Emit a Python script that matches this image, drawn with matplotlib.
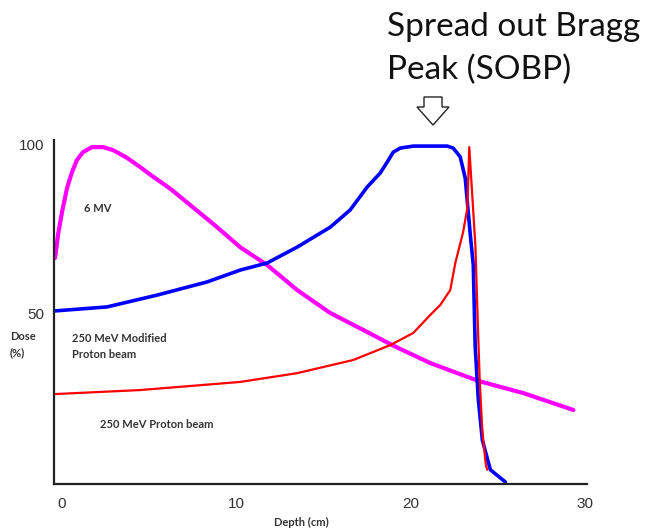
import matplotlib
matplotlib.use("Agg")
import matplotlib.pyplot as plt
from matplotlib.patches import Polygon

# depth (cm) / dose (%)
depth_6mv = [-0.40, -0.23, 0.00, 0.29, 0.57, 0.86, 1.20, 1.72, 2.35, 2.93, 3.73,
             4.48, 5.10, 6.20, 7.34, 8.89, 10.21, 11.76, 13.48, 15.38, 17.27,
             18.93, 21.11, 23.87, 26.45, 29.32]
dose_6mv = [66.3, 73.1, 79.9, 87.0, 91.7, 95.3, 97.6, 99.1, 99.1, 98.2, 95.9,
            93.2, 90.8, 86.8, 82.0, 75.4, 69.5, 64.2, 56.8, 50.0, 45.0,
            40.5, 35.2, 29.9, 26.3, 21.3]

depth_sobp = [-0.46, 2.58, 5.45, 8.32, 10.21, 11.76, 13.48, 15.38, 16.52, 17.50,
              18.24, 18.65, 18.99, 19.39, 20.14, 22.09, 22.43, 22.83, 23.12,
              23.24, 23.41, 23.58, 23.69, 23.87, 24.10, 24.56, 25.42]
dose_sobp = [50.6, 51.8, 55.3, 59.2, 62.7, 64.8, 69.5, 75.4, 80.5, 87.3,
             91.4, 94.7, 97.6, 98.8, 99.4, 99.4, 98.8, 96.2, 89.9,
             82.8, 73.1, 64.2, 40.0, 24.3, 12.4, 3.6, 0.0]

depth_proton = [-0.46, 4.48, 10.21, 13.48, 16.70, 18.82, 20.14, 21.11, 21.69,
                22.26, 22.55, 23.00, 23.24, 23.35, 23.70, 23.85, 23.95, 24.10,
                24.30, 24.38]
dose_proton = [26.0, 27.2, 29.6, 32.2, 36.1, 40.5, 44.1, 49.4, 52.4,
               56.8, 64.8, 74.0, 81.1, 99.1, 70.0, 45.0, 30.0, 15.0,
               5.0, 3.6]

xticks = [0, 10, 20, 30]
yticks = [50, 100]

W, H = 649, 532


def px(x, y):
    # pixel position -> figure fraction
    return (x / W, 1 - y / H)


def main():
    fig = plt.figure(figsize=(W / 100, H / 100), dpi=100)
    ax = fig.add_axes([54 / W, 48 / H, 533 / W, 344 / H])

    ax.plot(depth_6mv, dose_6mv, color="#ff00ff", lw=3.0, solid_capstyle="round", solid_joinstyle="round")
    ax.plot(depth_sobp, dose_sobp, color="#0000ff", lw=2.6, solid_capstyle="round", solid_joinstyle="round")
    ax.plot(depth_proton, dose_proton, color="#ff0000", lw=1.6, solid_capstyle="round", solid_joinstyle="round")

    ax.set_xlim(-0.46, 30.1)
    ax.set_ylim(-0.6, 101.2)
    for s in ["top", "right"]:
        ax.spines[s].set_visible(False)
    for s in ["left", "bottom"]:
        ax.spines[s].set_linewidth(1.6)
        ax.spines[s].set_color("#222222")

    ax.set_xticks(xticks)
    ax.set_yticks(yticks)
    ax.set_xticklabels([str(t) for t in xticks], fontsize=11, family="Liberation Sans", color="#333333")
    ax.set_yticklabels([str(t) for t in yticks], fontsize=11, family="Liberation Sans", color="#333333")
    ax.tick_params(axis="x", length=0, pad=9)
    ax.tick_params(axis="y", length=0, pad=7)

    lab = dict(fontsize=8, family="Lato", fontweight="bold", color="#333333")
    fig.text(*px(84, 209), "6 MV", va="center", ha="left", **lab)
    fig.text(*px(72, 338), "250 MeV Modified", va="center", ha="left", **lab)
    fig.text(*px(72, 354), "Proton beam", va="center", ha="left", **lab)
    fig.text(*px(100, 424), "250 MeV Proton beam", va="center", ha="left", **lab)
    fig.text(*px(10, 337), "Dose", va="center", ha="left", **lab)
    fig.text(*px(10, 353), "(%)", va="center", ha="left", **lab)
    fig.text(*px(301, 522), "Depth (cm)", va="center", ha="center", **lab)

    fig.text(*px(387, 36), "Spread out Bragg", ha="left", va="baseline",
             fontsize=24, family="Lato", color="#111111")
    fig.text(*px(387, 79), "Peak (SOBP)", ha="left", va="baseline",
             fontsize=24, family="Lato", color="#111111")

    arrow = [(424, 97), (442, 97), (442, 107), (449, 107), (433, 125),
             (417, 107), (424, 107)]
    fig.patches.append(Polygon([px(x, y) for x, y in arrow], closed=True,
                               transform=fig.transFigure, facecolor="white",
                               edgecolor="#222222", lw=1.0))

    fig.savefig("out.png", dpi=100)


if __name__ == "__main__":
    main()
